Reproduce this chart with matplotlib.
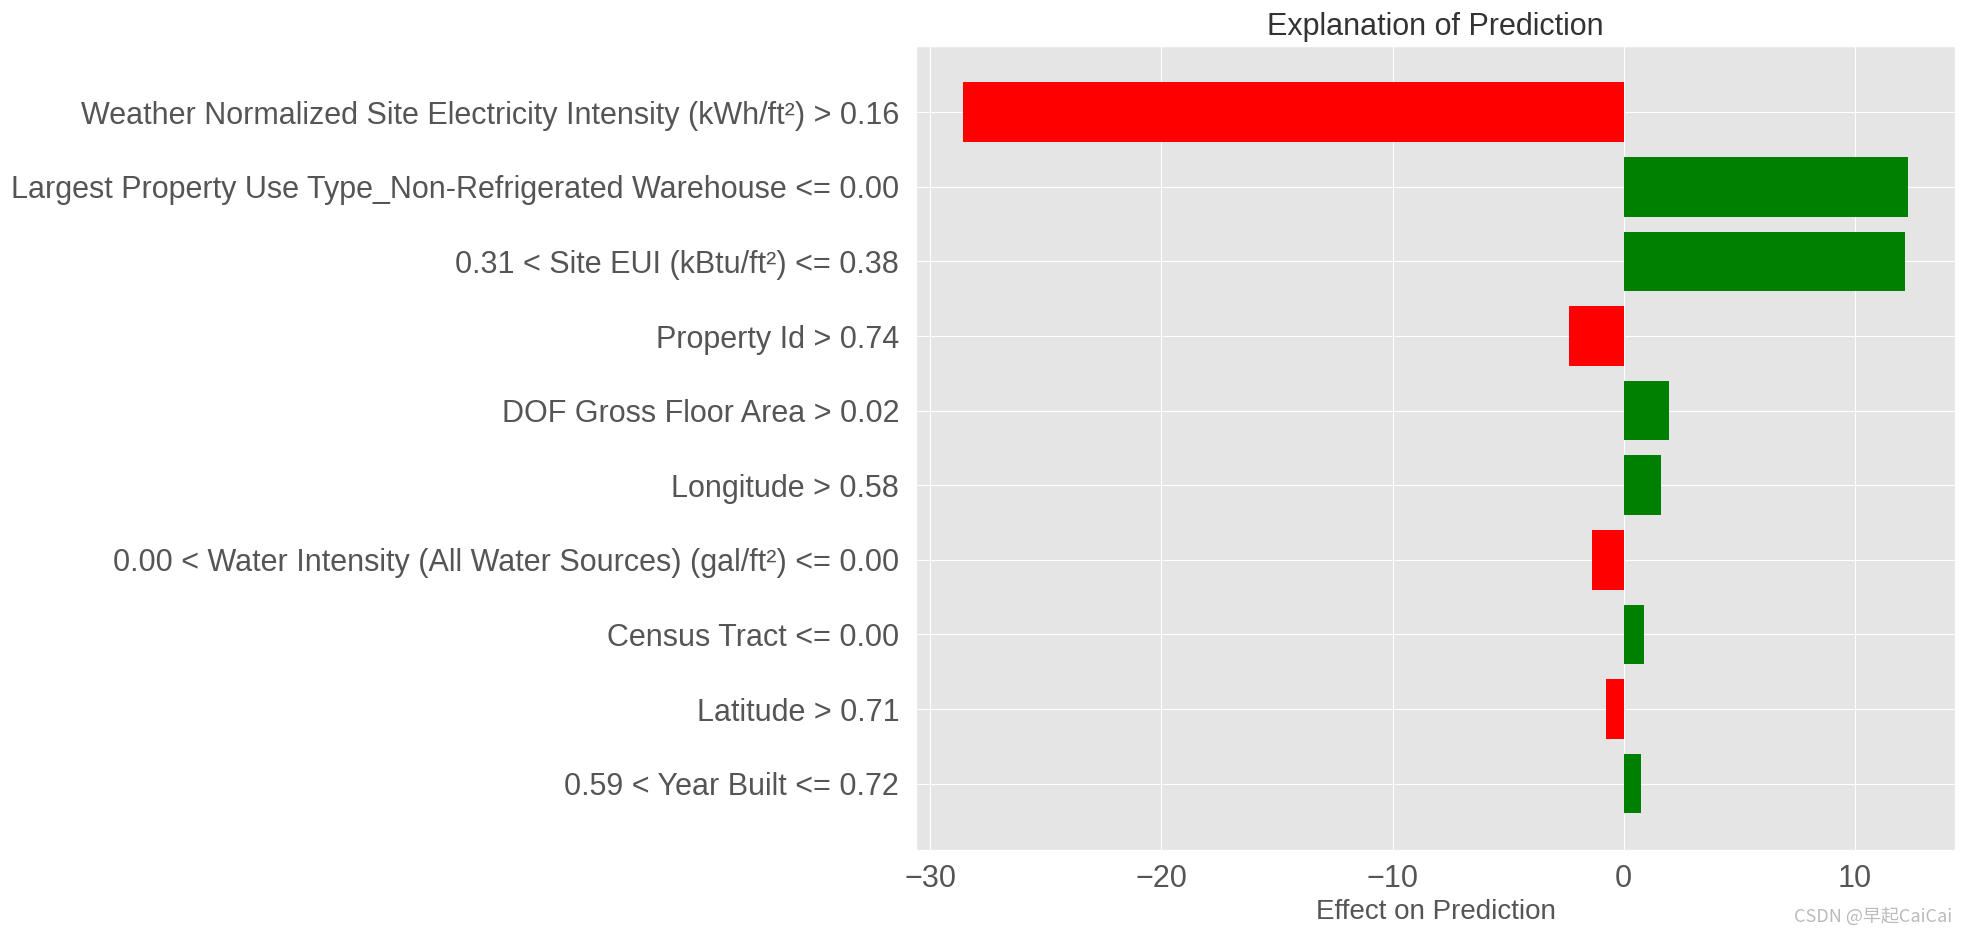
import numpy as np
import matplotlib.pyplot as plt
from matplotlib.ticker import MultipleLocator

plt.style.use('ggplot')
plt.rcParams['font.family'] = ['Liberation Sans', 'DejaVu Sans']

# LIME-style explanation: feature conditions and their weights (top to bottom)
features = [
    'Weather Normalized Site Electricity Intensity (kWh/ft²) > 0.16',
    'Largest Property Use Type_Non-Refrigerated Warehouse <= 0.00',
    '0.31 < Site EUI (kBtu/ft²) <= 0.38',
    'Property Id > 0.74',
    'DOF Gross Floor Area > 0.02',
    'Longitude > 0.58',
    '0.00 < Water Intensity (All Water Sources) (gal/ft²) <= 0.00',
    'Census Tract <= 0.00',
    'Latitude > 0.71',
    '0.59 < Year Built <= 0.72',
]
weights = [-28.57, 12.28, 12.18, -2.38, 1.94, 1.59, -1.39, 0.86, -0.79, 0.73]

# plot bottom-up like lime's as_pyplot_figure
feats = features[::-1]
vals = weights[::-1]
colors = ['green' if v > 0 else 'red' for v in vals]
pos = np.arange(len(vals))

fig = plt.figure(figsize=(19.68, 9.35), dpi=100)
ax = fig.add_axes([0.4654, 0.0909, 0.528, 0.86])
ax.barh(pos, vals, align='center', color=colors, height=0.8, zorder=3)
ax.set_yticks(pos)
ax.set_yticklabels(feats)
ax.xaxis.set_major_locator(MultipleLocator(10))
ax.tick_params(axis='y', labelsize=22, colors='#555555', length=0, pad=12)
ax.tick_params(axis='x', labelsize=22, colors='#555555', length=0, pad=10)
ax.set_xlabel('Effect on Prediction', fontsize=20, color='#555555', labelpad=4)
ax.set_title('Explanation of Prediction', fontsize=22, color='#333333', pad=8)

fig.text(0.992, 0.02, 'CSDN @早起CaiCai', ha='right', va='center', fontsize=13,
         color='#bbbbbb', family=['Noto Sans CJK SC', 'DejaVu Sans'])

fig.savefig('out.png', dpi=100)
